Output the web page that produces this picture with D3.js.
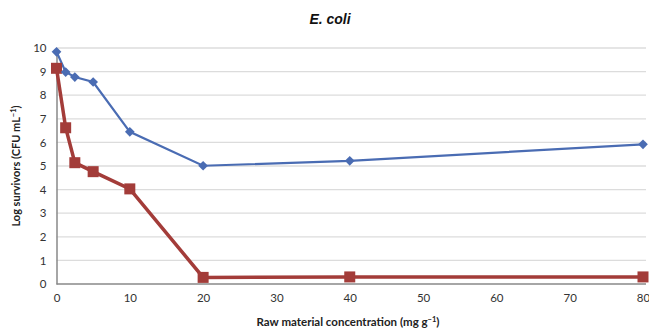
<!DOCTYPE html>
<html lang="en">
<head>
<meta charset="UTF-8">
<title>E. coli survivors</title>
<script src="https://d3js.org/d3.v7.min.js"></script>
<style>
  body { margin: 0; background: #fff; }
  text { font-family: Lato, "Open Sans", sans-serif; }
</style>
</head>
<body>
<svg width="649" height="329"></svg>
<script>
// concentrations (mg g-1)
const conc = [0, 1.25, 2.5, 5, 10, 20, 40, 80];
const blueVals = [9.84, 8.98, 8.77, 8.56, 6.45, 5.01, 5.22, 5.92];
const redVals = [9.14, 6.62, 5.14, 4.76, 4.03, 0.28, 0.3, 0.3];
const xTicks = [0, 10, 20, 30, 40, 50, 60, 70, 80];
const yTicks = [0, 1, 2, 3, 4, 5, 6, 7, 8, 9, 10];

const svg = d3.select("svg");
const x = d3.scaleLinear().domain([0, 80]).range([56.5, 643]);
const y = d3.scaleLinear().domain([0, 10]).range([284, 48]);

// gridlines
svg.append("g").selectAll("line")
  .data(yTicks.filter(d => d > 0))
  .enter().append("line")
  .attr("x1", x(0)).attr("x2", 646)
  .attr("y1", d => y(d)).attr("y2", d => y(d))
  .attr("stroke", "#dcdcdc").attr("stroke-width", 1.3);

// axes
const xAxis = svg.append("g")
  .attr("transform", `translate(0,${y(0)})`)
  .call(d3.axisBottom(x).tickValues(xTicks).tickSize(0).tickPadding(10));
xAxis.select(".domain").attr("stroke", "#888").attr("stroke-width", 1.5)
  .attr("d", `M${x(0)},0H646`);
xAxis.selectAll("text").attr("font-size", 11.5).attr("fill", "#333");

const yAxis = svg.append("g")
  .attr("transform", `translate(${x(0)},0)`)
  .call(d3.axisLeft(y).tickValues(yTicks).tickSize(0).tickPadding(10));
yAxis.select(".domain").attr("stroke", "#888").attr("stroke-width", 1.5);
yAxis.selectAll("text").attr("font-size", 11.5).attr("fill", "#333");

// lines
const line = d3.line().x(d => x(d[0])).y(d => y(d[1]));
const blue = conc.map((c, i) => [c, blueVals[i]]);
const red = conc.map((c, i) => [c, redVals[i]]);

svg.append("path").datum(red).attr("d", line)
  .attr("fill", "none").attr("stroke", "#a33c39").attr("stroke-width", 3.5);
svg.append("path").datum(blue).attr("d", line)
  .attr("fill", "none").attr("stroke", "#4a6cb3").attr("stroke-width", 2.2);

svg.append("g").selectAll("rect").data(red).enter().append("rect")
  .attr("x", d => x(d[0]) - 5.5).attr("y", d => y(d[1]) - 5.5)
  .attr("width", 11).attr("height", 11).attr("fill", "#a33c39");

svg.append("g").selectAll("path").data(blue).enter().append("path")
  .attr("d", d3.symbol(d3.symbolDiamond2, 60))
  .attr("transform", d => `translate(${x(d[0])},${y(d[1])})`)
  .attr("fill", "#4a6cb3");

// titles
svg.append("text").attr("x", 330).attr("y", 24).attr("text-anchor", "middle")
  .style("font-family", "'Liberation Sans', Arial, sans-serif")
  .attr("font-size", 14).attr("font-weight", "bold").attr("font-style", "italic")
  .attr("fill", "#111").text("E. coli");

const xl = svg.append("text").attr("x", 348).attr("y", 326).attr("text-anchor", "middle")
  .attr("font-size", 11.5).attr("font-weight", "bold").attr("fill", "#222");
xl.append("tspan").text("Raw material concentration (mg g");
xl.append("tspan").attr("dy", -4).attr("font-size", 7.5).text("−1");
xl.append("tspan").attr("dy", 4).text(")");

const yl = svg.append("text")
  .attr("transform", `translate(20,${(y(0) + y(10)) / 2}) rotate(-90)`)
  .attr("text-anchor", "middle")
  .attr("font-size", 11).attr("font-weight", "bold").attr("fill", "#222");
yl.append("tspan").text("Log survivors (CFU mL");
yl.append("tspan").attr("dy", -4).attr("font-size", 7.5).text("−1");
yl.append("tspan").attr("dy", 4).text(")");
</script>
</body>
</html>
